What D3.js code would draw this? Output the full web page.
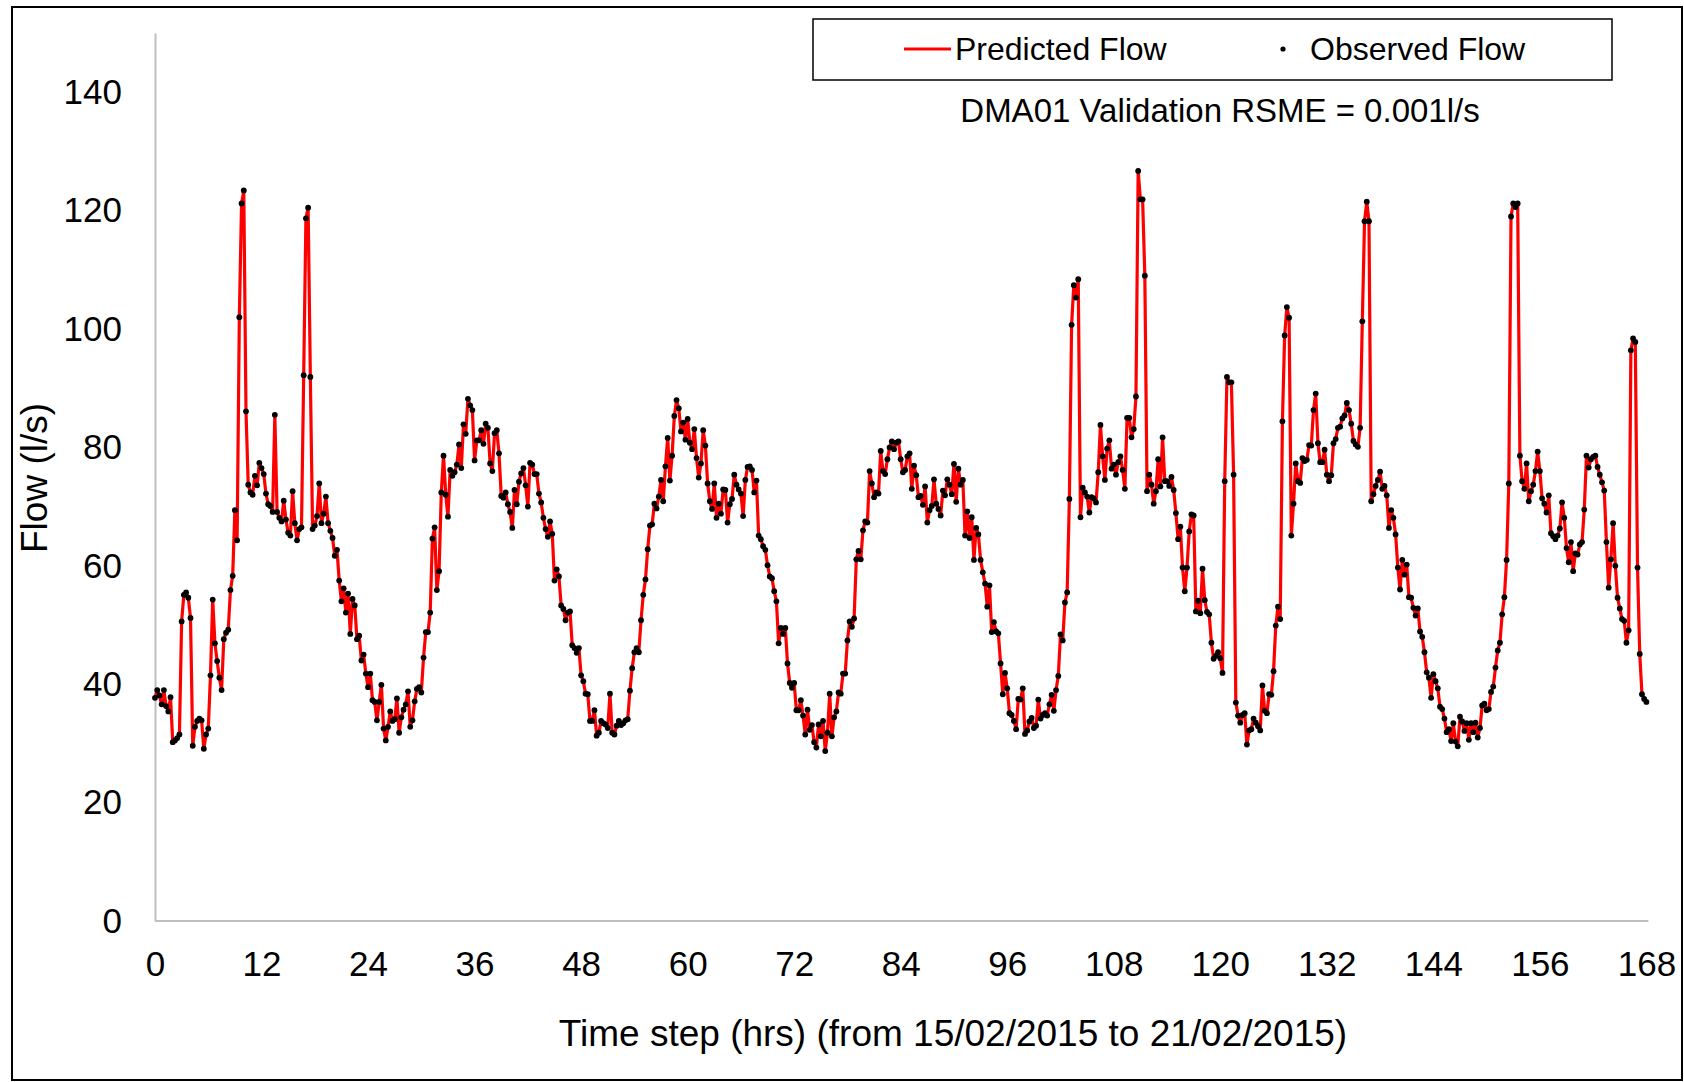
<!DOCTYPE html>
<html>
<head>
<meta charset="utf-8">
<script src="https://cdn.jsdelivr.net/npm/d3@7"></script>
<style>
  html, body { margin: 0; padding: 0; background: #fff; }
  svg { display: block; }
  text { font-family: "Liberation Sans", Arial, sans-serif; fill: #000; }
</style>
</head>
<body>
<svg id="chart" width="1684" height="1082"></svg>
<script>
// Flow at DMA01, one reading every 15 minutes (l/s)
const stepHours = 0.25;
const observedFlow = [
  37.7, 39.0, 38.1, 36.6, 39.0, 36.3, 35.4, 37.8, 30.2, 30.5,
  30.9, 31.5, 50.6, 55.1, 55.5, 54.6, 51.2, 29.6, 32.8, 33.8,
  34.2, 33.9, 29.1, 31.5, 32.5, 41.5, 54.3, 46.9, 43.9, 41.1,
  39.0, 47.6, 48.7, 49.2, 55.9, 58.3, 69.4, 64.3, 102.0, 121.2,
  123.4, 86.1, 73.7, 72.4, 72.0, 75.2, 73.6, 77.4, 76.5, 75.5,
  72.2, 70.4, 70.1, 69.1, 85.5, 69.1, 68.1, 67.5, 71.0, 67.8,
  65.6, 65.1, 72.6, 67.2, 64.3, 66.2, 66.5, 92.2, 118.7, 120.5,
  91.9, 66.2, 66.8, 68.4, 73.9, 67.2, 68.8, 71.7, 67.2, 65.9,
  64.7, 61.7, 62.7, 57.5, 54.0, 56.2, 52.1, 55.3, 48.5, 54.4,
  53.3, 47.6, 48.2, 44.0, 45.0, 41.8, 39.5, 41.8, 37.3, 37.0,
  33.9, 37.0, 39.9, 32.5, 30.5, 32.8, 35.4, 33.8, 34.1, 37.6,
  31.8, 34.4, 35.7, 36.6, 38.8, 32.8, 33.9, 37.1, 39.2, 39.5,
  38.6, 44.5, 48.8, 48.8, 52.1, 64.6, 66.5, 55.9, 59.1, 72.4,
  78.6, 72.0, 68.3, 76.2, 75.2, 75.8, 77.1, 80.5, 76.5, 83.9,
  82.3, 88.2, 87.1, 86.3, 77.8, 81.2, 81.2, 82.9, 80.6, 84.0,
  83.3, 77.3, 76.0, 82.4, 82.9, 79.0, 71.8, 71.5, 72.4, 70.4,
  69.1, 66.4, 72.8, 70.4, 74.2, 75.6, 76.5, 73.6, 70.0, 77.4,
  77.1, 75.5, 75.5, 72.2, 70.7, 68.1, 66.2, 64.9, 67.5, 65.4,
  57.5, 59.4, 58.2, 53.3, 52.7, 50.8, 52.1, 52.3, 46.6, 46.1,
  45.3, 46.1, 41.5, 40.5, 38.4, 38.3, 33.8, 33.8, 35.6, 31.3,
  31.8, 33.8, 33.4, 33.2, 32.6, 38.4, 31.8, 31.5, 33.0, 33.8,
  33.1, 33.4, 33.9, 34.1, 38.9, 42.7, 45.4, 46.1, 45.4, 50.8,
  55.1, 57.7, 62.8, 66.8, 67.0, 70.5, 69.7, 71.7, 74.5, 70.9,
  76.8, 81.6, 74.4, 78.6, 85.3, 88.0, 86.6, 82.7, 84.2, 81.3,
  84.8, 80.8, 79.7, 83.1, 78.2, 74.9, 77.3, 82.9, 80.3, 73.9,
  70.9, 69.6, 73.9, 68.1, 70.5, 68.8, 72.9, 72.8, 67.3, 70.4,
  71.3, 75.4, 73.7, 72.9, 72.2, 68.4, 74.5, 76.7, 76.8, 76.2,
  72.4, 74.4, 65.1, 64.5, 63.3, 62.7, 60.1, 58.2, 57.9, 55.7,
  54.0, 46.9, 49.5, 48.5, 49.5, 43.5, 40.2, 39.4, 40.2, 35.6,
  35.6, 37.3, 34.7, 31.5, 35.7, 32.3, 33.1, 30.2, 29.3, 33.2,
  31.2, 33.8, 28.7, 31.8, 38.4, 31.2, 34.4, 35.4, 38.6, 38.4,
  41.8, 41.8, 47.4, 50.6, 49.7, 51.1, 61.1, 62.5, 61.1, 66.0,
  67.5, 67.3, 76.0, 73.9, 71.6, 72.4, 72.2, 79.4, 76.0, 75.5,
  78.0, 80.0, 81.0, 79.7, 80.8, 81.0, 78.0, 75.8, 76.2, 78.5,
  79.0, 73.0, 76.9, 75.3, 71.6, 71.8, 70.3, 73.4, 67.3, 69.4,
  70.1, 74.6, 70.5, 69.6, 68.5, 72.7, 71.9, 74.6, 73.7, 72.1,
  77.2, 70.8, 76.4, 73.7, 74.5, 65.1, 69.2, 64.7, 68.2, 61.0,
  66.4, 65.3, 61.0, 58.9, 57.0, 53.1, 56.7, 48.8, 50.5, 48.9,
  48.6, 43.5, 38.3, 41.9, 39.3, 35.1, 34.8, 33.8, 32.4, 37.5,
  37.4, 39.3, 31.6, 32.2, 33.7, 34.3, 32.6, 33.0, 37.4, 34.2,
  34.8, 35.1, 34.7, 36.6, 38.2, 35.5, 39.0, 41.4, 48.4, 47.4,
  53.8, 55.5, 71.3, 100.7, 107.4, 105.3, 108.4, 68.2, 73.2, 72.4,
  71.7, 69.0, 71.6, 71.4, 70.7, 75.8, 83.8, 78.5, 74.5, 79.8,
  81.2, 76.4, 77.1, 75.4, 77.5, 78.5, 76.2, 73.0, 85.0, 85.0,
  81.7, 83.1, 88.6, 126.7, 121.9, 121.9, 109.0, 72.6, 75.4, 73.7,
  70.5, 72.6, 78.0, 73.4, 81.7, 74.3, 74.3, 73.5, 75.0, 72.8,
  68.9, 64.5, 66.6, 59.7, 55.7, 59.7, 65.8, 68.7, 68.5, 52.3,
  54.1, 52.0, 59.5, 54.2, 52.2, 51.8, 47.0, 44.3, 44.8, 45.4,
  44.4, 41.9, 74.3, 91.9, 91.0, 91.0, 75.4, 36.9, 34.7, 33.5,
  34.8, 35.1, 29.8, 32.2, 32.4, 34.2, 33.5, 32.9, 32.2, 39.8,
  35.5, 35.1, 38.3, 38.2, 42.2, 49.9, 53.1, 51.0, 84.4, 98.9,
  103.7, 101.9, 65.1, 70.5, 77.3, 74.3, 74.0, 78.2, 77.7, 77.9,
  80.4, 80.3, 86.3, 89.1, 80.7, 77.5, 77.5, 79.6, 75.4, 74.3,
  75.3, 80.7, 81.4, 83.3, 83.5, 84.9, 85.4, 87.5, 86.3, 84.0,
  81.1, 80.5, 80.1, 83.3, 101.3, 118.2, 121.5, 118.2, 70.9, 72.1,
  73.5, 74.5, 75.9, 73.0, 73.5, 71.9, 66.4, 69.4, 68.1, 65.3,
  59.7, 56.0, 61.0, 58.5, 60.2, 54.7, 54.6, 52.9, 51.6, 52.8,
  48.9, 48.0, 45.4, 42.0, 41.1, 37.7, 41.7, 40.5, 39.3, 36.2,
  35.8, 34.2, 31.9, 32.4, 30.4, 33.4, 30.3, 29.5, 34.5, 33.7,
  32.1, 33.4, 30.6, 33.4, 31.9, 33.5, 31.0, 32.6, 36.4, 36.7,
  35.6, 35.8, 38.7, 39.6, 42.8, 45.7, 47.0, 51.8, 54.7, 61.0,
  73.9, 119.0, 121.2, 120.6, 121.2, 78.6, 74.3, 73.0, 77.3, 70.9,
  72.6, 73.7, 76.0, 79.3, 76.0, 71.4, 70.5, 69.0, 71.9, 65.5,
  65.0, 64.5, 65.1, 66.3, 70.7, 68.1, 63.0, 60.6, 64.0, 59.1,
  62.1, 61.9, 63.6, 64.0, 69.5, 78.6, 76.6, 78.0, 78.4, 78.6,
  76.7, 75.4, 74.1, 72.7, 64.0, 56.3, 61.1, 67.2, 60.0, 54.6,
  52.8, 51.0, 50.7, 47.0, 49.1, 96.4, 98.4, 97.8, 59.7, 45.1,
  38.3, 37.5, 37.0
];
// Model output follows the observed readings (RMSE 0.001 l/s)
const predictedFlow = observedFlow.slice();

const xTicks = [0, 12, 24, 36, 48, 60, 72, 84, 96, 108, 120, 132, 144, 156, 168];
const yTicks = [0, 20, 40, 60, 80, 100, 120, 140];
const seriesNames = ["Predicted Flow", "Observed Flow"];
const subtitle = "DMA01 Validation RSME = 0.001l/s";
const xTitle = "Time step (hrs) (from 15/02/2015 to 21/02/2015)";
const yTitle = "Flow (l/s)";

const svg = d3.select("#chart");
const W = 1684, H = 1082;

// outer frame
svg.append("rect")
  .attr("x", 12).attr("y", 7)
  .attr("width", W - 14).attr("height", H - 9)
  .attr("fill", "none").attr("stroke", "#000").attr("stroke-width", 2);

const x = d3.scaleLinear().domain([0, 168]).range([155, 1646.4]);
const y = d3.scaleLinear().domain([0, 150]).range([921, 33]);

const axisColor = "#bfbfbf";
const tickFont = 35;
const fontFamily = "Liberation Sans, Arial, sans-serif";

// y axis
const gy = svg.append("g").attr("transform", `translate(${x(0)},0)`)
  .call(d3.axisLeft(y).tickValues(yTicks).tickSize(0).tickPadding(33));
gy.select(".domain").attr("stroke", axisColor).attr("stroke-width", 2);
gy.selectAll("text").attr("font-size", tickFont)
  .attr("font-family", fontFamily).attr("fill", "#000");

// x axis
const gx = svg.append("g").attr("transform", `translate(0,${y(0)})`)
  .call(d3.axisBottom(x).tickValues(xTicks).tickSize(0).tickPadding(30));
gx.select(".domain").attr("stroke", axisColor).attr("stroke-width", 2)
  .attr("d", `M${x(0)},0H${x(168) + 2}`);
gx.selectAll("text").attr("font-size", tickFont)
  .attr("font-family", fontFamily).attr("fill", "#000");

// axis titles
svg.append("text")
  .attr("x", 953).attr("y", 1046)
  .attr("text-anchor", "middle").attr("font-size", 37)
  .text(xTitle);
svg.append("text")
  .attr("transform", "translate(47,478)rotate(-90)")
  .attr("text-anchor", "middle").attr("font-size", 37)
  .text(yTitle);

// predicted line
const line = d3.line()
  .x((d, i) => x(i * stepHours))
  .y(d => y(d));
svg.append("path")
  .datum(predictedFlow)
  .attr("d", line)
  .attr("fill", "none")
  .attr("stroke", "#ff0000")
  .attr("stroke-width", 3.2)
  .attr("stroke-linejoin", "round");

// observed points
svg.append("g").selectAll("circle")
  .data(observedFlow)
  .join("circle")
  .attr("cx", (d, i) => x(i * stepHours))
  .attr("cy", d => y(d))
  .attr("r", 2.9)
  .attr("fill", "#000");

// legend
const lg = svg.append("g");
lg.append("rect")
  .attr("x", 813).attr("y", 19).attr("width", 799).attr("height", 61)
  .attr("fill", "#fff").attr("stroke", "#000").attr("stroke-width", 1.5);
lg.append("line")
  .attr("x1", 904).attr("x2", 951).attr("y1", 49).attr("y2", 49)
  .attr("stroke", "#ff0000").attr("stroke-width", 3);
lg.append("text")
  .attr("x", 955).attr("y", 49).attr("dy", "0.35em")
  .attr("font-size", 32).text(seriesNames[0]);
lg.append("circle")
  .attr("cx", 1283).attr("cy", 49).attr("r", 2.6).attr("fill", "#000");
lg.append("text")
  .attr("x", 1310).attr("y", 49).attr("dy", "0.35em")
  .attr("font-size", 32).text(seriesNames[1]);

svg.append("text")
  .attr("x", 1220).attr("y", 110).attr("dy", "0.35em")
  .attr("text-anchor", "middle").attr("font-size", 33)
  .text(subtitle);
</script>
</body>
</html>
